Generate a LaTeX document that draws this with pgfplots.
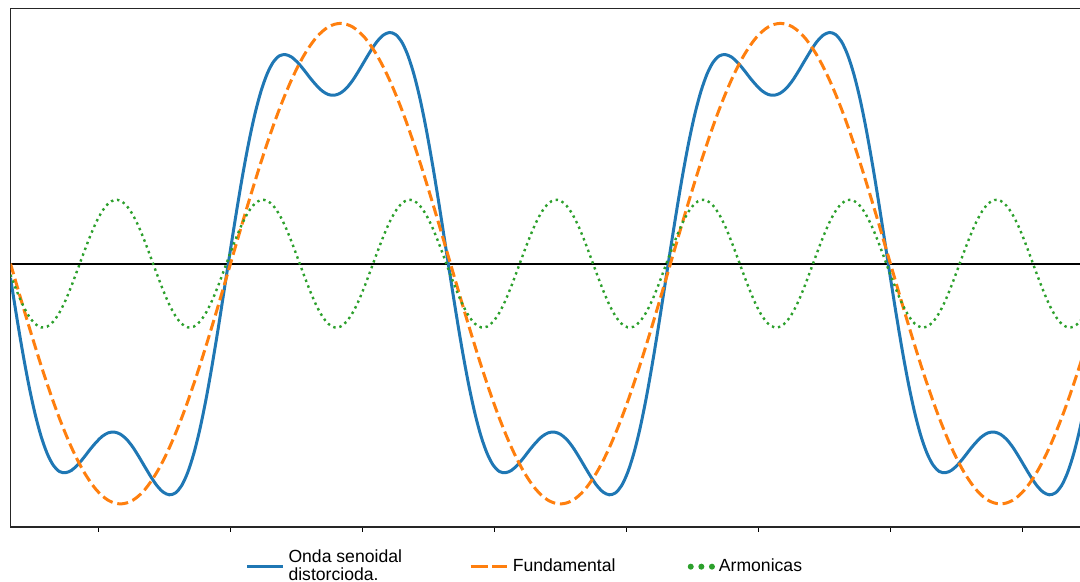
\documentclass[border=0pt]{standalone}
\usepackage{pgfplots}
\pgfplotsset{compat=1.18}
\usepackage{pgfplotstable}
\usepackage{fontspec}
\setmainfont{Liberation Sans}
\definecolor{tabblue}{HTML}{1F77B4}
\definecolor{taborange}{HTML}{FF7F0E}
\definecolor{tabgreen}{HTML}{2CA02C}

\pgfplotstableread{
x b o g
0 -0.059 0 -0.046
5 -0.219 -0.087 -0.112
10 -0.370 -0.174 -0.171
15 -0.506 -0.259 -0.218
20 -0.623 -0.342 -0.250
25 -0.718 -0.423 -0.265
30 -0.790 -0.500 -0.262
35 -0.839 -0.574 -0.241
40 -0.865 -0.643 -0.204
45 -0.870 -0.707 -0.153
50 -0.860 -0.766 -0.091
55 -0.837 -0.819 -0.023
60 -0.807 -0.866 0.046
65 -0.774 -0.906 0.112
70 -0.744 -0.940 0.171
75 -0.719 -0.966 0.218
80 -0.704 -0.985 0.250
85 -0.701 -0.996 0.265
90 -0.710 -1.000 0.262
95 -0.731 -0.996 0.241
100 -0.763 -0.985 0.204
105 -0.803 -0.966 0.153
110 -0.846 -0.940 0.091
115 -0.888 -0.906 0.023
120 -0.925 -0.866 -0.046
125 -0.951 -0.819 -0.112
130 -0.962 -0.766 -0.171
135 -0.954 -0.707 -0.218
140 -0.924 -0.643 -0.250
145 -0.869 -0.574 -0.265
150 -0.790 -0.500 -0.262
155 -0.688 -0.423 -0.241
160 -0.564 -0.342 -0.204
165 -0.422 -0.259 -0.153
170 -0.268 -0.174 -0.091
175 -0.105 -0.087 -0.023
180 0.059 0 0.046
185 0.219 0.087 0.112
190 0.370 0.174 0.171
195 0.506 0.259 0.218
200 0.623 0.342 0.250
205 0.718 0.423 0.265
210 0.790 0.500 0.262
215 0.839 0.574 0.241
220 0.865 0.643 0.204
225 0.870 0.707 0.153
230 0.860 0.766 0.091
235 0.837 0.819 0.023
240 0.807 0.866 -0.046
245 0.774 0.906 -0.112
250 0.744 0.940 -0.171
255 0.719 0.966 -0.218
260 0.704 0.985 -0.250
265 0.701 0.996 -0.265
270 0.710 1.000 -0.262
275 0.731 0.996 -0.241
280 0.763 0.985 -0.204
285 0.803 0.966 -0.153
290 0.846 0.940 -0.091
295 0.888 0.906 -0.023
300 0.925 0.866 0.046
305 0.951 0.819 0.112
310 0.962 0.766 0.171
315 0.954 0.707 0.218
320 0.924 0.643 0.250
325 0.869 0.574 0.265
330 0.790 0.500 0.262
335 0.688 0.423 0.241
340 0.564 0.342 0.204
345 0.422 0.259 0.153
350 0.268 0.174 0.091
355 0.105 0.087 0.023
360 -0.059 0 -0.046
365 -0.219 -0.087 -0.112
370 -0.370 -0.174 -0.171
375 -0.506 -0.259 -0.218
380 -0.623 -0.342 -0.250
385 -0.718 -0.423 -0.265
390 -0.790 -0.500 -0.262
395 -0.839 -0.574 -0.241
400 -0.865 -0.643 -0.204
405 -0.870 -0.707 -0.153
410 -0.860 -0.766 -0.091
415 -0.837 -0.819 -0.023
420 -0.807 -0.866 0.046
425 -0.774 -0.906 0.112
430 -0.744 -0.940 0.171
435 -0.719 -0.966 0.218
440 -0.704 -0.985 0.250
445 -0.701 -0.996 0.265
450 -0.710 -1.000 0.262
455 -0.731 -0.996 0.241
460 -0.763 -0.985 0.204
465 -0.803 -0.966 0.153
470 -0.846 -0.940 0.091
475 -0.888 -0.906 0.023
480 -0.925 -0.866 -0.046
485 -0.951 -0.819 -0.112
490 -0.962 -0.766 -0.171
495 -0.954 -0.707 -0.218
500 -0.924 -0.643 -0.250
505 -0.869 -0.574 -0.265
510 -0.790 -0.500 -0.262
515 -0.688 -0.423 -0.241
520 -0.564 -0.342 -0.204
525 -0.422 -0.259 -0.153
530 -0.268 -0.174 -0.091
535 -0.105 -0.087 -0.023
540 0.059 0 0.046
545 0.219 0.087 0.112
550 0.370 0.174 0.171
555 0.506 0.259 0.218
560 0.623 0.342 0.250
565 0.718 0.423 0.265
570 0.790 0.500 0.262
575 0.839 0.574 0.241
580 0.865 0.643 0.204
585 0.870 0.707 0.153
590 0.860 0.766 0.091
595 0.837 0.819 0.023
600 0.807 0.866 -0.046
605 0.774 0.906 -0.112
610 0.744 0.940 -0.171
615 0.719 0.966 -0.218
620 0.704 0.985 -0.250
625 0.701 0.996 -0.265
630 0.710 1.000 -0.262
635 0.731 0.996 -0.241
640 0.763 0.985 -0.204
645 0.803 0.966 -0.153
650 0.846 0.940 -0.091
655 0.888 0.906 -0.023
660 0.925 0.866 0.046
665 0.951 0.819 0.112
670 0.962 0.766 0.171
675 0.954 0.707 0.218
680 0.924 0.643 0.250
685 0.869 0.574 0.265
690 0.790 0.500 0.262
695 0.688 0.423 0.241
700 0.564 0.342 0.204
705 0.422 0.259 0.153
710 0.268 0.174 0.091
715 0.105 0.087 0.023
720 -0.059 0 -0.046
725 -0.219 -0.087 -0.112
730 -0.370 -0.174 -0.171
735 -0.506 -0.259 -0.218
740 -0.623 -0.342 -0.250
745 -0.718 -0.423 -0.265
750 -0.790 -0.500 -0.262
755 -0.839 -0.574 -0.241
760 -0.865 -0.643 -0.204
765 -0.870 -0.707 -0.153
770 -0.860 -0.766 -0.091
775 -0.837 -0.819 -0.023
780 -0.807 -0.866 0.046
785 -0.774 -0.906 0.112
790 -0.744 -0.940 0.171
795 -0.719 -0.966 0.218
800 -0.704 -0.985 0.250
805 -0.701 -0.996 0.265
810 -0.710 -1.000 0.262
815 -0.731 -0.996 0.241
820 -0.763 -0.985 0.204
825 -0.803 -0.966 0.153
830 -0.846 -0.940 0.091
835 -0.888 -0.906 0.023
840 -0.925 -0.866 -0.046
845 -0.951 -0.819 -0.112
850 -0.962 -0.766 -0.171
855 -0.954 -0.707 -0.218
860 -0.924 -0.643 -0.250
865 -0.869 -0.574 -0.265
870 -0.790 -0.500 -0.262
875 -0.688 -0.423 -0.241
880 -0.564 -0.342 -0.204
}\wavedata

\begin{document}
\begin{tikzpicture}
\path[use as bounding box] (0pt,0pt) rectangle (540pt,291pt);
\begin{axis}[
  at={(5.25pt,27.5pt)}, anchor=south west,
  scale only axis, width=542pt, height=259.25pt,
  xmin=0, xmax=887, ymin=-1.096, ymax=1.062,
  xtick={72,180,288,396,504,612,720,828}, xticklabels={},
  ytick=\empty,
  xtick pos=left, tick align=outside,
  major tick length=2.5pt,
  every tick/.style={black, line width=0.5pt},
  axis line style={black!85, line width=0.7pt},
  legend columns=3,
  legend cell align=left,
  legend style={at={(axis description cs:0.2168,-0.0765)}, anchor=west,
    draw=none, fill=none, inner sep=0pt,
    font=\fontsize{8.8}{8.8}\selectfont,
    cells={align=left},
    /tikz/column 2/.style={column sep=31.5pt},
    /tikz/column 4/.style={column sep=34.1pt}},
]
\addplot[black, line width=1.1pt, forget plot] coordinates {(0,0) (887,0)};
\addplot[tabblue, line width=1.5pt, smooth,
  legend image code/.code={\draw[tabblue, line width=1.5pt, solid] (0pt,0pt) -- (17.8pt,0pt);}]
  table[x=x, y=b] {\wavedata};
\addlegendentry{Onda senoidal\\distorcioda.}
\addplot[taborange, line width=1.5pt, smooth, dash pattern=on 5.5pt off 2.4pt,
  legend image code/.code={\draw[taborange, line width=1.5pt, dash pattern=on 8.6pt off 2.2pt] (0pt,0pt) -- (18.4pt,0pt);}]
  table[x=x, y=o] {\wavedata};
\addlegendentry{Fundamental}
\addplot[tabgreen, line width=1.2pt, smooth, dash pattern=on 1.2pt off 1.9pt,
  legend image code/.code={
    \node[circle, fill=tabgreen, draw=none, solid, inner sep=0pt, minimum size=3pt] at (1.5pt,0pt) {};
    \node[circle, fill=tabgreen, draw=none, solid, inner sep=0pt, minimum size=3pt] at (6.8pt,0pt) {};
    \node[circle, fill=tabgreen, draw=none, solid, inner sep=0pt, minimum size=3pt] at (12.1pt,0pt) {};}]
  table[x=x, y=g] {\wavedata};
\addlegendentry{Armonicas}
\end{axis}
\end{tikzpicture}
\end{document}
